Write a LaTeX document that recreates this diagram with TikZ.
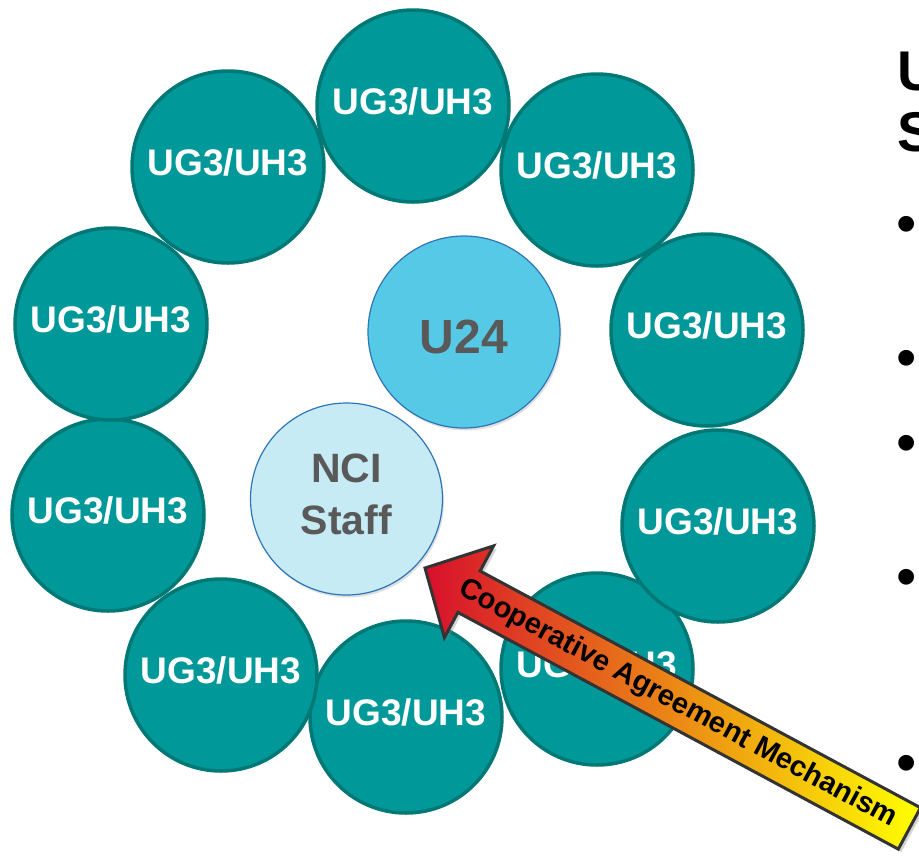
\documentclass[tikz,border=0pt]{standalone}
\usepackage{fontspec}
\setmainfont{Liberation Sans}
\usetikzlibrary{shadows}
\definecolor{tealfill}{RGB}{0,152,152}
\definecolor{tealline}{RGB}{0,120,118}
\definecolor{ufill}{RGB}{86,201,231}
\definecolor{ncifill}{RGB}{198,235,245}
\definecolor{blueline}{RGB}{46,117,182}
\definecolor{txtgray}{RGB}{89,89,89}
\definecolor{arrred}{RGB}{215,16,44}
\definecolor{arrmid}{RGB}{232,150,40}
\definecolor{arryel}{RGB}{255,255,0}
\definecolor{arrline}{RGB}{51,51,51}
\begin{document}
\begin{tikzpicture}[x=1pt,y=-1pt,
  ugnode/.style={circle, draw=tealline, line width=3.5pt, fill=tealfill,
    minimum size=192pt, inner sep=0pt, text=white,
    font=\bfseries\fontsize{37}{40}\selectfont,
    text height=26.5pt, text depth=9pt},
  centrenode/.style={circle, draw=blueline, line width=1.2pt,
    minimum size=192pt, inner sep=0pt, text=txtgray,
    drop shadow={opacity=0.25, shadow xshift=1.5pt, shadow yshift=-2.5pt}},
  bulletnode/.style={inner sep=0pt, font=\fontsize{58}{60}\selectfont},
  titlenode/.style={anchor=base west, inner sep=0pt, font=\bfseries\fontsize{56}{60}\selectfont}
]
\useasboundingbox (0,0) rectangle (919,855);
\clip (0,0) rectangle (919,855);

% outer ring of UG3/UH3 circles
\node[ugnode] (c10) at (597,669) {UG3/UH3};
\node[ugnode] (c9)  at (406,717) {UG3/UH3};
\node[ugnode] (c8)  at (221,675) {UG3/UH3};
\node[ugnode] (c6)  at (108,515) {UG3/UH3};
\node[ugnode] (c4)  at (111,324) {UG3/UH3};
\node[ugnode] (c2)  at (228,167) {UG3/UH3};
\node[ugnode] (c1)  at (413,106) {UG3/UH3};
\node[ugnode] (c3)  at (597,170) {UG3/UH3};
\node[ugnode] (c5)  at (707,330) {UG3/UH3};
\node[ugnode] (c7)  at (718,526) {UG3/UH3};

% centre circles
\node[centrenode, fill=ufill, font=\bfseries\fontsize{48}{50}\selectfont,
      text height=43pt, text depth=0pt] (u24) at (464,332) {U24};
\node[centrenode, fill=ncifill, font=\bfseries\fontsize{41}{52}\selectfont,
      align=center, text depth=10pt] (nci) at (346.5,499) {NCI\\Staff};

% block arrow
\path[draw=arrline, line width=3pt, line join=miter,
      left color=arrred, middle color=arrmid, right color=arryel,
      drop shadow={opacity=0.35, shadow xshift=3pt, shadow yshift=-3pt}]
  (425,568) -- (493.6,545.9) -- (480.1,571.0) -- (920.5,807.7)
  -- (898.3,849.1) -- (457.9,612.4) -- (444.4,637.5) -- cycle;
\node[rotate=-28.26, inner sep=0pt, font=\bfseries\fontsize{29}{30}\selectfont]
  (mech) at (677.8,703.9) {Cooperative Agreement Mechanism};

% cut-off title and bullets at right edge
\node[titlenode] (t1) at (897,90) {U};
\node[titlenode] (t2) at (897,151) {S};
\node[bulletnode] (b1) at (907,230) {•};
\node[bulletnode] (b2) at (907,364) {•};
\node[bulletnode] (b3) at (907,449) {•};
\node[bulletnode] (b4) at (907,583) {•};
\node[bulletnode] (b5) at (907,769) {•};
\end{tikzpicture}
\end{document}
